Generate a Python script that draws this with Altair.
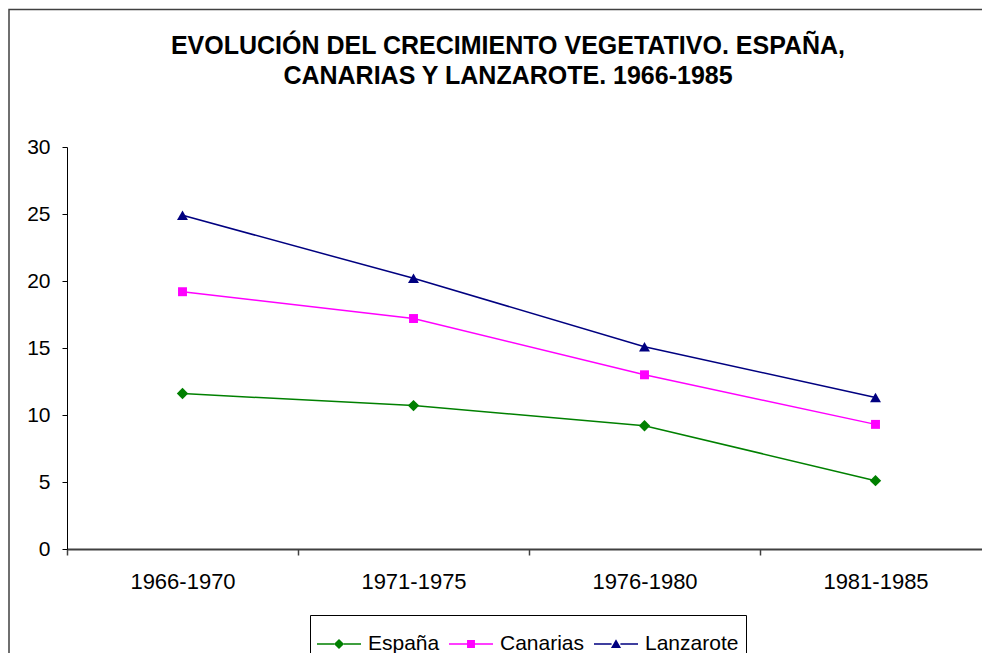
import altair as alt
import pandas as pd

periods = ["1966-1970", "1971-1975", "1976-1980", "1981-1985"]
series = ["España", "Canarias", "Lanzarote"]
espana = [11.6, 10.7, 9.2, 5.1]
canarias = [19.2, 17.2, 13.0, 9.3]
lanzarote = [24.9, 20.2, 15.1, 11.3]
colors = ["#008000", "#FF00FF", "#000080"]
y_ticks = [0, 5, 10, 15, 20, 25, 30]
title_lines = ["EVOLUCIÓN DEL CRECIMIENTO VEGETATIVO. ESPAÑA,",
               "CANARIAS Y LANZAROTE. 1966-1985"]

# legend symbols: short line with marker in the middle
legend_paths = [
    "M-1,-0.034H-0.22V0.034H-1Z M0.22,-0.034H1V0.034H0.22Z M0,-0.23L0.23,0L0,0.23L-0.23,0Z",
    "M-1,-0.034H-0.18V0.034H-1Z M0.18,-0.034H1V0.034H0.18Z M-0.18,-0.18H0.18V0.18H-0.18Z",
    "M-1,-0.034H-0.2V0.034H-1Z M0.2,-0.034H1V0.034H0.2Z M0,-0.22L0.23,0.18L-0.23,0.18Z",
]

rows = []
for name, vals in zip(series, [espana, canarias, lanzarote]):
    for p, v in zip(periods, vals):
        rows.append({"Periodo": p, "Serie": name, "Valor": v})
df = pd.DataFrame(rows)

FONT = "Liberation Sans"

x = alt.X("Periodo:N",
          scale=alt.Scale(type="band", domain=periods, range=[0, 924],
                          paddingInner=0, paddingOuter=0),
          axis=alt.Axis(title=None, labelAngle=0, tickBand="extent", grid=False,
                        domainColor="#404040", domainWidth=2, tickColor="#404040",
                        tickWidth=1.5, tickSize=6, labelPadding=16, labelFontSize=22,
                        labelColor="black", labelFont=FONT))
y = alt.Y("Valor:Q",
          scale=alt.Scale(domain=[0, 30], nice=False, zero=True),
          axis=alt.Axis(title=None, values=y_ticks, grid=False, domainColor="black",
                        domainWidth=1, tickColor="black", tickSize=5, labelPadding=12,
                        labelFontSize=21, labelColor="black", labelFont=FONT))

leg = alt.Legend(title=None, orient="none", legendX=243, legendY=468,
                 direction="horizontal", strokeColor="black", fillColor="white",
                 padding=7, symbolSize=1936, symbolStrokeWidth=0, labelFontSize=21,
                 labelFont=FONT, labelColor="black", labelOffset=7, columnPadding=9)

base = alt.Chart(df)
one_row = alt.Data(values=[{"f": 1}])

frame = alt.Chart(one_row).mark_rect(
    fill="transparent", stroke="#404040", strokeWidth=1.5
).encode(x=alt.value(-58), x2=alt.value(940), y=alt.value(-137.5), y2=alt.value(520))

# hides any default view outline along the top of the plot area
top_mask = alt.Chart(one_row).mark_rule(color="white", strokeWidth=2.5).encode(
    x=alt.value(1), x2=alt.value(924), y=alt.value(0)
)

legend_layer = base.transform_filter("false").mark_point(filled=True, opacity=1).encode(
    x=x, y=y,
    color=alt.Color("Serie:N", scale=alt.Scale(domain=series, range=colors), legend=leg),
    shape=alt.Shape("Serie:N", scale=alt.Scale(domain=series, range=legend_paths), legend=leg),
)

shapes = ["diamond", "square", "triangle-up"]
sizes = [130, 80, 120]
layers = [frame, top_mask, legend_layer]
for name, col in zip(series, colors):
    layers.append(
        base.transform_filter(alt.datum.Serie == name)
        .mark_line(strokeWidth=1.5, color=col)
        .encode(x=x, y=y)
    )
for name, col, shp, sz in zip(series, colors, shapes, sizes):
    layers.append(
        base.transform_filter(alt.datum.Serie == name)
        .mark_point(shape=shp, filled=True, size=sz, opacity=1, color=col)
        .encode(x=x, y=y)
    )

chart = alt.layer(*layers).properties(
    width=915, height=402,
    padding={"left": 59, "top": 139, "right": 0, "bottom": 104},
    autosize=alt.AutoSizeParams(type="none"),
    title=alt.Title(text=title_lines, fontSize=25, fontWeight="bold", font=FONT,
                    anchor="middle", frame="bounds", offset=0, dy=80,
                    lineHeight=30, color="black"),
).configure_view(stroke=None, strokeWidth=0).configure_axis(grid=False).configure(
    font=FONT, background="white",
    style={"cell": {"stroke": "transparent", "strokeWidth": 0}},
)

chart.save("out.html", embed_options={"renderer": "svg", "actions": False})
